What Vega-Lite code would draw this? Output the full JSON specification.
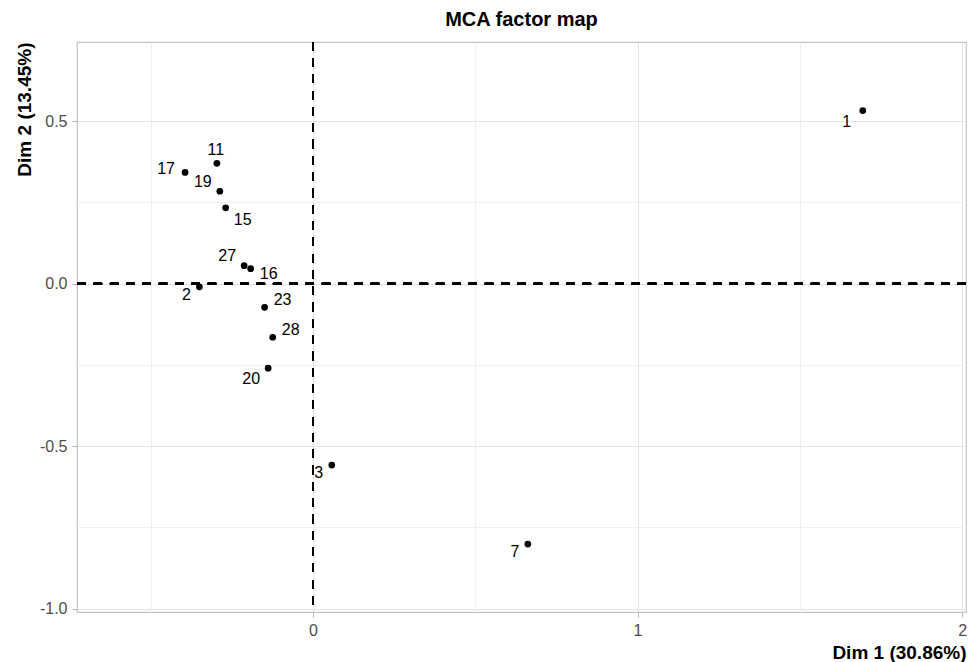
{
  "$schema": "https://vega.github.io/schema/vega-lite/v6.json",
  "width": 889,
  "height": 570,
  "autosize": "none",
  "padding": {"left": 77, "top": 42, "right": 7, "bottom": 50},
  "background": "white",
  "title": {"text": "MCA factor map", "font": "Liberation Sans", "fontSize": 20, "fontWeight": "bold", "color": "black", "anchor": "middle", "baseline": "alphabetic", "offset": -5},
  "config": {
    "view": {"stroke": "#C4C4C4", "strokeWidth": 1.2},
    "axis": {"labelFont": "Liberation Sans", "titleFont": "Liberation Sans", "labelColor": "#4D4D4D", "labelFontSize": 16, "titleFontSize": 19, "titleFontWeight": "bold", "titleColor": "black", "tickColor": "#B3B3B3", "tickSize": 5, "domain": false, "labelOverlap": false, "labelPadding": 5}
  },
  "data": {"values": [
    {"label": "1", "dim1": 1.694, "dim2": 0.532},
    {"label": "11", "dim1": -0.296, "dim2": 0.370},
    {"label": "17", "dim1": -0.394, "dim2": 0.342},
    {"label": "19", "dim1": -0.287, "dim2": 0.284},
    {"label": "15", "dim1": -0.269, "dim2": 0.233},
    {"label": "27", "dim1": -0.212, "dim2": 0.055},
    {"label": "16", "dim1": -0.192, "dim2": 0.046},
    {"label": "2", "dim1": -0.350, "dim2": -0.010},
    {"label": "23", "dim1": -0.149, "dim2": -0.073},
    {"label": "28", "dim1": -0.124, "dim2": -0.165},
    {"label": "20", "dim1": -0.138, "dim2": -0.260},
    {"label": "3", "dim1": 0.058, "dim2": -0.558},
    {"label": "7", "dim1": 0.662, "dim2": -0.801}
  ]},
  "layer": [
    {
      "mark": {"type": "rule", "color": "black", "strokeWidth": 1.6, "strokeDash": [8.5, 7.8]},
      "encoding": {"x": {"datum": 0, "type": "quantitative"}}
    },
    {
      "mark": {"type": "rule", "color": "black", "strokeWidth": 1.6, "strokeDash": [8.5, 7.8]},
      "encoding": {"y": {"datum": 0, "type": "quantitative"}}
    },
    {
      "mark": {"type": "point", "filled": true, "color": "black", "opacity": 1, "size": 45},
      "encoding": {
        "x": {"field": "dim1", "type": "quantitative",
          "scale": {"domain": [-0.727, 2.012], "nice": false, "zero": false},
          "axis": {"title": "Dim 1 (30.86%)", "titleAnchor": "end", "titlePadding": 5,
            "values": [-0.5, 0, 0.5, 1, 1.5, 2],
            "labelExpr": "datum.value % 1 === 0 ? format(datum.value, 'd') : ''",
            "grid": true,
            "gridColor": {"condition": {"test": "datum.value % 1 === 0", "value": "#E4E4E4"}, "value": "#EFEFEF"},
            "gridWidth": 1,
            "tickOpacity": {"condition": {"test": "datum.value % 1 === 0", "value": 1}, "value": 0}}},
        "y": {"field": "dim2", "type": "quantitative",
          "scale": {"domain": [-1.010, 0.743], "nice": false, "zero": false},
          "axis": {"title": "Dim 2 (13.45%)", "titleAnchor": "end", "titlePadding": 5,
            "values": [-1, -0.75, -0.5, -0.25, 0, 0.25, 0.5],
            "labelExpr": "datum.value % 0.5 === 0 ? replace(format(datum.value, '.1f'), '\u2212', '-') : ''",
            "grid": true,
            "gridColor": {"condition": {"test": "datum.value % 0.5 === 0", "value": "#E4E4E4"}, "value": "#EFEFEF"},
            "gridWidth": 1,
            "tickOpacity": {"condition": {"test": "datum.value % 0.5 === 0", "value": 1}, "value": 0}}}
      }
    },
    {
      "transform": [{"filter": {"field": "label", "oneOf": ["1"]}}],
      "mark": {"type": "text", "font": "Liberation Sans", "fontSize": 16, "color": "black", "dx": -16, "dy": 11},
      "encoding": {"x": {"field": "dim1", "type": "quantitative"}, "y": {"field": "dim2", "type": "quantitative"}, "text": {"field": "label"}}
    },
    {
      "transform": [{"filter": {"field": "label", "oneOf": ["2", "3", "7"]}}],
      "mark": {"type": "text", "font": "Liberation Sans", "fontSize": 16, "color": "black", "dx": -13, "dy": 8},
      "encoding": {"x": {"field": "dim1", "type": "quantitative"}, "y": {"field": "dim2", "type": "quantitative"}, "text": {"field": "label"}}
    },
    {
      "transform": [{"filter": {"field": "label", "oneOf": ["20"]}}],
      "mark": {"type": "text", "font": "Liberation Sans", "fontSize": 16, "color": "black", "dx": -17, "dy": 11},
      "encoding": {"x": {"field": "dim1", "type": "quantitative"}, "y": {"field": "dim2", "type": "quantitative"}, "text": {"field": "label"}}
    },
    {
      "transform": [{"filter": {"field": "label", "oneOf": ["17"]}}],
      "mark": {"type": "text", "font": "Liberation Sans", "fontSize": 16, "color": "black", "dx": -19, "dy": -3},
      "encoding": {"x": {"field": "dim1", "type": "quantitative"}, "y": {"field": "dim2", "type": "quantitative"}, "text": {"field": "label"}}
    },
    {
      "transform": [{"filter": {"field": "label", "oneOf": ["19", "27"]}}],
      "mark": {"type": "text", "font": "Liberation Sans", "fontSize": 16, "color": "black", "dx": -17, "dy": -9.5},
      "encoding": {"x": {"field": "dim1", "type": "quantitative"}, "y": {"field": "dim2", "type": "quantitative"}, "text": {"field": "label"}}
    },
    {
      "transform": [{"filter": {"field": "label", "oneOf": ["11"]}}],
      "mark": {"type": "text", "font": "Liberation Sans", "fontSize": 16, "color": "black", "dx": -1, "dy": -13},
      "encoding": {"x": {"field": "dim1", "type": "quantitative"}, "y": {"field": "dim2", "type": "quantitative"}, "text": {"field": "label"}}
    },
    {
      "transform": [{"filter": {"field": "label", "oneOf": ["15"]}}],
      "mark": {"type": "text", "font": "Liberation Sans", "fontSize": 16, "color": "black", "dx": 17, "dy": 12},
      "encoding": {"x": {"field": "dim1", "type": "quantitative"}, "y": {"field": "dim2", "type": "quantitative"}, "text": {"field": "label"}}
    },
    {
      "transform": [{"filter": {"field": "label", "oneOf": ["16"]}}],
      "mark": {"type": "text", "font": "Liberation Sans", "fontSize": 16, "color": "black", "dx": 18, "dy": 5},
      "encoding": {"x": {"field": "dim1", "type": "quantitative"}, "y": {"field": "dim2", "type": "quantitative"}, "text": {"field": "label"}}
    },
    {
      "transform": [{"filter": {"field": "label", "oneOf": ["23", "28"]}}],
      "mark": {"type": "text", "font": "Liberation Sans", "fontSize": 16, "color": "black", "dx": 18, "dy": -7.5},
      "encoding": {"x": {"field": "dim1", "type": "quantitative"}, "y": {"field": "dim2", "type": "quantitative"}, "text": {"field": "label"}}
    }
  ]
}
